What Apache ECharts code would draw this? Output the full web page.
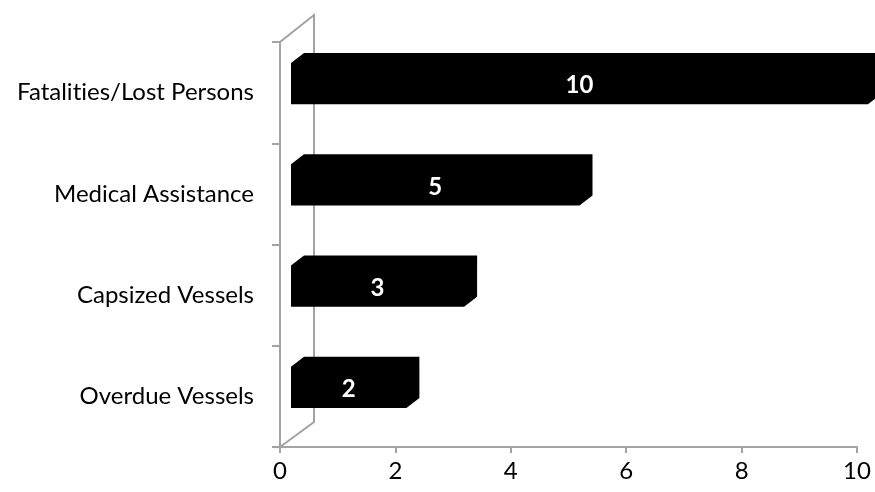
<!DOCTYPE html>
<html>
<head>
<meta charset="utf-8">
<script src="https://cdn.jsdelivr.net/npm/echarts@6/dist/echarts.min.js"></script>
<style>
  html, body { margin: 0; padding: 0; background: #fff; }
  #chart { width: 875px; height: 492px; }
</style>
</head>
<body>
<div id="chart"></div>
<script>
// Incident categories, bottom to top
const categories = ['Overdue Vessels', 'Capsized Vessels', 'Medical Assistance', 'Fatalities/Lost Persons'];
const counts = [2, 3, 5, 10];
const xTicks = { min: 0, max: 10, interval: 2 };

const FONT = 'Lato';
const AXIS_GRAY = '#a3a3a3';

// 3D depth of the back wall and of the bar boxes (pixels)
const WALL_DX = 34, WALL_DY = -27;
const BAR_FRONT_DX = 11, BAR_FRONT_DY = -9;
const BAR_DEPTH_DX = 13, BAR_DEPTH_DY = -10;
const BAR_RATIO = 0.405;

// keep "t" and "i" as separate glyphs (Lato would join them)
const noLigature = s => s.replace(/ti/g, 't\u200Ci');

const chart = echarts.init(document.getElementById('chart'), null, { renderer: 'canvas' });

function renderBar(params, api) {
  const cat = api.value(0);
  const val = api.value(1);
  const start = api.coord([0, cat]);
  const end = api.coord([val, cat]);
  const band = api.size([0, 1])[1];
  const h = band * BAR_RATIO;
  const x0 = start[0] + BAR_FRONT_DX;
  const x1 = end[0] + BAR_FRONT_DX;
  const yc = start[1] + BAR_FRONT_DY;
  const yT = yc - h / 2, yB = yc + h / 2;
  const dx = BAR_DEPTH_DX, dy = BAR_DEPTH_DY;
  return {
    type: 'group',
    children: [
      {
        type: 'polygon',
        shape: {
          points: [
            [x0, yT], [x0 + dx, yT + dy], [x1 + dx, yT + dy],
            [x1 + dx, yB + dy], [x1, yB], [x0, yB]
          ]
        },
        style: { fill: '#000' }
      },
      {
        type: 'text',
        x: (x0 + x1) / 2,
        y: yc + 2,
        style: {
          text: String(val),
          fill: '#fff',
          font: 'bold 24px ' + FONT,
          align: 'center',
          verticalAlign: 'middle'
        }
      }
    ]
  };
}

function renderWall(params, api) {
  const cs = params.coordSys;
  const left = cs.x, top = cs.y, bottom = cs.y + cs.height;
  const st = { stroke: AXIS_GRAY, lineWidth: 2, fill: null };
  return {
    type: 'group',
    children: [
      { type: 'polyline', shape: { points: [[left, top], [left + WALL_DX, top + WALL_DY], [left + WALL_DX, bottom + WALL_DY + 2], [left, bottom]] }, style: st }
    ]
  };
}

chart.setOption({
  animation: false,
  backgroundColor: '#fff',
  grid: { left: 280, right: 18, top: 42, bottom: 45, containLabel: false },
  xAxis: {
    type: 'value',
    min: xTicks.min, max: xTicks.max, interval: xTicks.interval,
    axisLine: { show: true, lineStyle: { color: AXIS_GRAY, width: 2 } },
    axisTick: { show: true, length: 6, lineStyle: { color: AXIS_GRAY, width: 2 } },
    splitLine: { show: false },
    axisLabel: { color: '#000', fontFamily: FONT, fontSize: 24, margin: 12 }
  },
  yAxis: {
    type: 'category',
    data: categories,
    axisLine: { show: true, lineStyle: { color: AXIS_GRAY, width: 2 } },
    axisTick: { show: true, length: 8, lineStyle: { color: AXIS_GRAY, width: 2 } },
    axisLabel: { color: '#000', fontFamily: FONT, fontSize: 24, margin: 26, formatter: noLigature },
    splitLine: { show: false }
  },
  series: [
    {
      type: 'custom',
      name: 'wall',
      renderItem: renderWall,
      data: [[0, 0]],
      silent: true,
      z: 1
    },
    {
      type: 'custom',
      name: 'Incidents',
      renderItem: renderBar,
      encode: { x: 1, y: 0 },
      data: categories.map((c, i) => [i, counts[i]]),
      z: 3
    }
  ]
});
</script>
</body>
</html>
